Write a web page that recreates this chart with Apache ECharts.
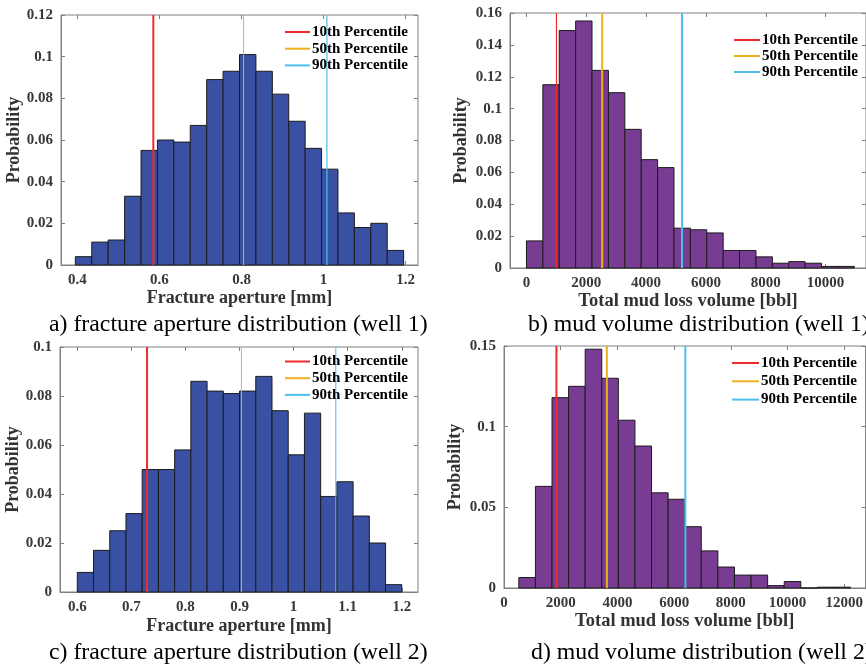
<!DOCTYPE html>
<html>
<head>
<meta charset="utf-8">
<script src="https://cdn.jsdelivr.net/npm/echarts@6/dist/echarts.min.js"></script>
<style>
  html, body { margin: 0; padding: 0; background: #ffffff; }
  #chart { width: 866px; height: 667px; }
</style>
</head>
<body>
<div id="chart"></div>
<script>
// ---- Well 1: fracture aperture (mm) ----
const apertureEdgesW1 = [0.395, 0.435, 0.475, 0.515, 0.555, 0.595, 0.635, 0.675, 0.715, 0.755, 0.795,
                         0.835, 0.875, 0.915, 0.955, 0.995, 1.035, 1.075, 1.115, 1.155, 1.195];
const apertureProbW1 = [0.004, 0.011, 0.012, 0.033, 0.055, 0.060, 0.059, 0.067, 0.089, 0.093,
                        0.101, 0.093, 0.082, 0.069, 0.056, 0.046, 0.025, 0.018, 0.020, 0.007];
const aperturePctW1 = [0.585, 0.805, 1.008];
const apertureTicksW1 = [0.4, 0.6, 0.8, 1.0, 1.2];

// ---- Well 1: total mud loss volume (bbl) ----
const mudEdgesW1 = [0, 548, 1096, 1644, 2192, 2740, 3288, 3836, 4384, 4932, 5480,
                    6028, 6576, 7124, 7672, 8220, 8768, 9316, 9864, 10412, 10960];
const mudProbW1 = [0.017, 0.115, 0.149, 0.155, 0.124, 0.110, 0.087, 0.068, 0.063, 0.025,
                   0.024, 0.022, 0.011, 0.011, 0.007, 0.003, 0.004, 0.003, 0.001, 0.001];
const mudPctW1 = [1003, 2531, 5199];
const mudTicksW1 = [0, 2000, 4000, 6000, 8000, 10000];

// ---- Well 2: fracture aperture (mm) ----
const apertureEdgesW2 = [0.60, 0.63, 0.66, 0.69, 0.72, 0.75, 0.78, 0.81, 0.84, 0.87, 0.90,
                         0.93, 0.96, 0.99, 1.02, 1.05, 1.08, 1.11, 1.14, 1.17, 1.20];
const apertureProbW2 = [0.008, 0.017, 0.025, 0.032, 0.050, 0.050, 0.058, 0.086, 0.082, 0.081,
                        0.082, 0.088, 0.074, 0.056, 0.073, 0.039, 0.045, 0.031, 0.020, 0.003];
const aperturePctW2 = [0.729, 0.9035, 1.078];
const apertureTicksW2 = [0.6, 0.7, 0.8, 0.9, 1.0, 1.1, 1.2];

// ---- Well 2: total mud loss volume (bbl) ----
const mudEdgesW2 = [523, 1108, 1693, 2278, 2863, 3448, 4033, 4618, 5203, 5788, 6373,
                    6958, 7543, 8128, 8713, 9298, 9883, 10468, 11053, 11638, 12223];
const mudProbW2 = [0.0065, 0.063, 0.118, 0.125, 0.148, 0.130, 0.104, 0.088, 0.059, 0.055,
                   0.038, 0.023, 0.013, 0.008, 0.008, 0.0015, 0.004, 0, 0.0005, 0.0005];
const mudPctW2 = [1849, 3627, 6395];
const mudTicksW2 = [0, 2000, 4000, 6000, 8000, 10000, 12000];

const percentileNames = ['10th Percentile', '50th Percentile', '90th Percentile'];
const captions = [
  'a) fracture aperture distribution (well 1)',
  'b) mud volume distribution (well 1)',
  'c) fracture aperture distribution (well 2)',
  'd) mud volume distribution (well 2)'
];

// ---- styling ----
const SERIF = '"Liberation Serif", "Times New Roman", serif';
const BOX = '#808080';
const TICK_TEXT = '#383838';
const BLUE = '#3A50A2';
const PURPLE = '#783C92';
const LINE_COLORS = ['#EE2A2A', '#EDB120', '#4DBEEE'];

// panel layout: grid box, axis ranges, fonts, legend placement
const panels = [
  { edges: apertureEdgesW1, prob: apertureProbW1, pct: aperturePctW1, ticks: apertureTicksW1,
    color: BLUE, grid: { left: 61, top: 15, width: 357, height: 250 },
    xMin: 0.36, xMax: 1.23, yMax: 0.12, yStep: 0.02,
    xName: 'Fracture aperture [mm]', xNameGap: 24, yNameGap: 37, nameSize: 18,
    lineWidths: [2, 1, 1.2], legend: { left: 284, top: 24.5, gap: 1.7, w: 25 } },
  { edges: mudEdgesW1, prob: mudProbW1, pct: mudPctW1, ticks: mudTicksW1,
    color: PURPLE, grid: { left: 510, top: 13, width: 358, height: 255 },
    xMin: -550, xMax: 11350, yMax: 0.16, yStep: 0.02,
    xName: 'Total mud loss volume [bbl]', xNameGap: 24, yNameGap: 40, nameSize: 18.5,
    lineWidths: [1.2, 2, 2], legend: { left: 733, top: 32.5, gap: 1, w: 26 } },
  { edges: apertureEdgesW2, prob: apertureProbW2, pct: aperturePctW2, ticks: apertureTicksW2,
    color: BLUE, grid: { left: 60, top: 347, width: 358, height: 245 },
    xMin: 0.568, xMax: 1.23, yMax: 0.1, yStep: 0.02,
    xName: 'Fracture aperture [mm]', xNameGap: 25, yNameGap: 37, nameSize: 18,
    lineWidths: [2, 1, 1], legend: { left: 284, top: 354, gap: 1.7, w: 25 } },
  { edges: mudEdgesW2, prob: mudProbW2, pct: mudPctW2, ticks: mudTicksW2,
    color: PURPLE, grid: { left: 504, top: 346, width: 365, height: 242 },
    xMin: 0, xMax: 12750, yMax: 0.15, yStep: 0.05,
    xName: 'Total mud loss volume [bbl]', xNameGap: 22, yNameGap: 40, nameSize: 18.5,
    lineWidths: [2, 2, 2], legend: { left: 731, top: 355.5, gap: 3.3, w: 27 } }
];

function histogramRenderer(fill) {
  return function (params, api) {
    const p0 = api.coord([api.value(0), 0]);
    const p1 = api.coord([api.value(1), api.value(2)]);
    return {
      type: 'rect',
      shape: { x: p0[0], y: p1[1], width: p1[0] - p0[0], height: p0[1] - p1[1] },
      style: { fill: fill, stroke: '#1c1c1c', lineWidth: 1 }
    };
  };
}

const tickLabelStyle = { fontFamily: SERIF, fontSize: 15, fontWeight: 'bold', color: TICK_TEXT };

const grids = [], xAxes = [], yAxes = [], series = [], legends = [], graphics = [];

panels.forEach((pn, i) => {
  grids.push(Object.assign({ show: true, borderColor: BOX, borderWidth: 1, backgroundColor: '#fff' }, pn.grid));

  // bottom axis with labels
  xAxes.push({
    type: 'value', gridIndex: i, position: 'bottom', min: pn.xMin, max: pn.xMax,
    name: pn.xName, nameLocation: 'middle', nameGap: pn.xNameGap,
    nameTextStyle: { fontFamily: SERIF, fontSize: pn.nameSize, fontWeight: 'bold', color: '#333' },
    axisLine: { show: true, onZero: false, lineStyle: { color: BOX, width: 1 } },
    axisTick: { show: true, inside: true, length: 4, lineStyle: { color: BOX }, customValues: pn.ticks },
    axisLabel: Object.assign({ margin: 8, customValues: pn.ticks, formatter: v => String(v) }, tickLabelStyle),
    splitLine: { show: false }
  });
  // mirrored top axis carrying only ticks
  xAxes.push({
    type: 'value', gridIndex: i, position: 'top', min: pn.xMin, max: pn.xMax,
    axisLine: { show: false, onZero: false },
    axisTick: { show: true, inside: true, length: 4, lineStyle: { color: BOX }, customValues: pn.ticks },
    axisLabel: { show: false }, splitLine: { show: false }
  });

  yAxes.push({
    type: 'value', gridIndex: i, position: 'left', min: 0, max: pn.yMax, interval: pn.yStep,
    name: 'Probability', nameLocation: 'middle', nameGap: pn.yNameGap, nameRotate: 90,
    nameTextStyle: { fontFamily: SERIF, fontSize: 18, fontWeight: 'bold', color: '#333' },
    axisLine: { show: true, onZero: false, lineStyle: { color: BOX, width: 1 } },
    axisTick: { show: true, inside: true, length: 4, lineStyle: { color: BOX } },
    axisLabel: Object.assign({ margin: 8 }, tickLabelStyle),
    splitLine: { show: false }
  });
  yAxes.push({
    type: 'value', gridIndex: i, position: 'right', min: 0, max: pn.yMax, interval: pn.yStep,
    axisLine: { show: false, onZero: false },
    axisTick: { show: true, inside: true, length: 4, lineStyle: { color: BOX } },
    axisLabel: { show: false }, splitLine: { show: false }
  });

  // histogram bars built from bin edges and probabilities
  const bins = pn.prob.map((p, k) => [pn.edges[k], pn.edges[k + 1], p]);
  series.push({
    type: 'custom', xAxisIndex: 2 * i, yAxisIndex: 2 * i,
    renderItem: histogramRenderer(pn.color),
    encode: { x: [0, 1], y: 2 },
    data: bins, z: 2, silent: true
  });

  // percentile markers spanning the full plot height
  pn.pct.forEach((v, k) => {
    series.push({
      type: 'line', name: percentileNames[k], xAxisIndex: 2 * i, yAxisIndex: 2 * i,
      data: [[v, 0], [v, pn.yMax]], symbol: 'none', silent: true, z: 3,
      lineStyle: { color: LINE_COLORS[k], width: pn.lineWidths[k] },
      itemStyle: { color: LINE_COLORS[k] }
    });
  });

  // legend entries show a plain line sample (the marker dot is hidden)
  legends.push({
    orient: 'vertical', left: pn.legend.left, top: pn.legend.top, padding: 0,
    itemWidth: pn.legend.w, itemHeight: 15, itemGap: pn.legend.gap,
    selectedMode: false,
    data: percentileNames.map((n, k) => ({
      name: n,
      lineStyle: { width: 2, color: LINE_COLORS[k] },
      itemStyle: { opacity: 0, color: 'rgba(0,0,0,0)', borderWidth: 0 }
    })),
    textStyle: { fontFamily: SERIF, fontSize: 15, fontWeight: 'bold', color: '#000', lineHeight: 15, padding: [0, 0, 0, -3] }
  });
});

// panel captions below each chart
const capPos = [[49, 326], [528, 326], [49, 654], [531, 654]];
captions.forEach((c, i) => {
  graphics.push({
    type: 'text', left: capPos[i][0], top: capPos[i][1] - 13,
    style: { text: c, fontFamily: SERIF, fontSize: 23.8, fill: '#000' }
  });
});

const chart = echarts.init(document.getElementById('chart'), null, { renderer: 'canvas' });
chart.setOption({
  animation: false,
  backgroundColor: '#ffffff',
  grid: grids,
  xAxis: xAxes,
  yAxis: yAxes,
  legend: legends,
  graphic: graphics,
  series: series
});
</script>
</body>
</html>
